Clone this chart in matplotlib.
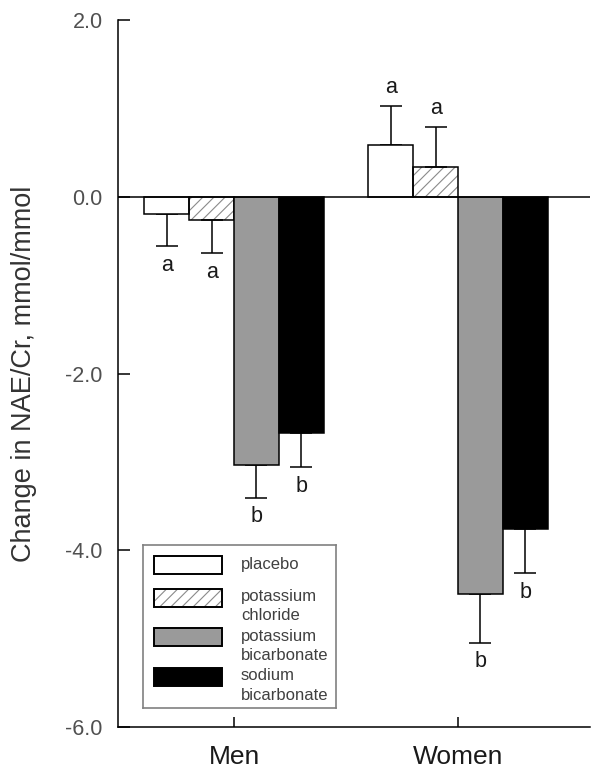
import matplotlib
matplotlib.use("Agg")
import matplotlib.pyplot as plt
from matplotlib.patches import Rectangle
import numpy as np

# === DATA ===
GROUPS = ["Men", "Women"]
TREATMENTS = ["placebo", "potassium\nchloride", "potassium\nbicarbonate", "sodium\nbicarbonate"]
PLACEBO_MEAN = [-0.20, 0.59]
PLACEBO_SEM = [0.36, 0.44]
KCL_MEAN = [-0.26, 0.34]
KCL_SEM = [0.38, 0.45]
KHCO3_MEAN = [-3.04, -4.50]
KHCO3_SEM = [0.37, 0.55]
NAHCO3_MEAN = [-2.67, -3.76]
NAHCO3_SEM = [0.39, 0.50]
PLACEBO_LETTERS = ["a", "a"]
KCL_LETTERS = ["a", "a"]
KHCO3_LETTERS = ["b", "b"]
NAHCO3_LETTERS = ["b", "b"]
Y_TICKS = [2.0, 0.0, -2.0, -4.0, -6.0]

# === STYLE ===
FONT = ["Liberation Sans", "DejaVu Sans"]
FACES = ["white", "white", "#9a9a9a", "black"]
HATCHES = [None, "///", None, None]
HATCH_COLOR = "#8a8a8a"
BAR_W = 0.2
W, H, DPI = 604, 779, 100

plt.rcParams["font.family"] = FONT
plt.rcParams["hatch.linewidth"] = 0.8

means = [PLACEBO_MEAN, KCL_MEAN, KHCO3_MEAN, NAHCO3_MEAN]
sems = [PLACEBO_SEM, KCL_SEM, KHCO3_SEM, NAHCO3_SEM]
letters = [PLACEBO_LETTERS, KCL_LETTERS, KHCO3_LETTERS, NAHCO3_LETTERS]

fig = plt.figure(figsize=(W / DPI, H / DPI), dpi=DPI)
ax = fig.add_axes([118 / W, 1 - 727 / H, (590 - 118) / W, (727 - 20) / H])

xg = np.arange(len(GROUPS))
for i in range(len(TREATMENTS)):
    x = xg + (i - 1.5) * BAR_W
    m = np.array(means[i])
    s = np.array(sems[i])
    if HATCHES[i]:
        # hatch drawn in grey, outline drawn separately in black
        ax.bar(x, m, BAR_W, color="white", edgecolor=HATCH_COLOR, hatch=HATCHES[i],
               linewidth=0, zorder=2)
        ax.bar(x, m, BAR_W, fill=False, edgecolor="black", linewidth=1.1, zorder=3)
    else:
        ax.bar(x, m, BAR_W, color=FACES[i], edgecolor="black", linewidth=1.1, zorder=3)
    lower = np.where(m < 0, s, 0)
    upper = np.where(m >= 0, s, 0)
    ax.errorbar(x, m, yerr=[lower, upper], fmt="none", ecolor="black",
                elinewidth=1.1, capsize=8, capthick=1.1, zorder=2)
    for xi, mi, si, lab in zip(x, m, s, letters[i]):
        if mi < 0:
            ax.annotate(lab, xy=(xi, mi - si), xytext=(0, -6), textcoords="offset points",
                        ha="center", va="top", fontsize=15.5, color="#1a1a1a")
        else:
            ax.annotate(lab, xy=(xi, mi + si), xytext=(0, 9), textcoords="offset points",
                        ha="center", va="baseline", fontsize=15.5, color="#1a1a1a")

ax.axhline(0, color="black", linewidth=1.1, zorder=4)

ax.set_xlim(-0.518, 1.589)
ax.set_ylim(-6, 2)
ax.set_yticks(Y_TICKS)
ax.set_yticklabels([f"{v:.1f}" for v in Y_TICKS])
ax.set_xticks(xg)
ax.set_xticklabels(GROUPS)
ax.tick_params(axis="y", direction="in", length=8.5, width=1.1, pad=11,
               labelsize=15.5, labelcolor="#505050")
ax.tick_params(axis="x", direction="in", length=7.5, width=1.1, pad=13,
               labelsize=19, labelcolor="#1a1a1a")
for side in ["top", "right"]:
    ax.spines[side].set_visible(False)
for side in ["left", "bottom"]:
    ax.spines[side].set_linewidth(1.1)

ax.set_ylabel("Change in NAE/Cr, mmol/mmol", fontsize=19.5, color="#333333")
ax.yaxis.set_label_coords(-0.172, 0.5)

# === LEGEND (hand built box, like the original) ===
LEG_ROWS = [20, 53, 92, 132]
lax = fig.add_axes([143 / W, 1 - 708 / H, 193 / W, 163 / H])
lax.set_xlim(0, 193)
lax.set_ylim(163, 0)
lax.set_xticks([])
lax.set_yticks([])
for sp in lax.spines.values():
    sp.set_edgecolor("#808080")
    sp.set_linewidth(1.2)
for i, (lab, c) in enumerate(zip(TREATMENTS, LEG_ROWS)):
    if HATCHES[i]:
        lax.add_patch(Rectangle((11, c - 9), 68, 18, facecolor="white", edgecolor=HATCH_COLOR,
                                hatch=HATCHES[i], linewidth=0))
        lax.add_patch(Rectangle((11, c - 9), 68, 18, fill=False, edgecolor="black", linewidth=1.4))
    else:
        lax.add_patch(Rectangle((11, c - 9), 68, 18, facecolor=FACES[i], edgecolor="black",
                                linewidth=1.4))
    for j, line in enumerate(lab.split("\n")):
        lax.text(98, c - 1 + j * 19, line, va="center", ha="left", fontsize=12,
                 color="#404040")

fig.savefig("out.png", dpi=DPI)
